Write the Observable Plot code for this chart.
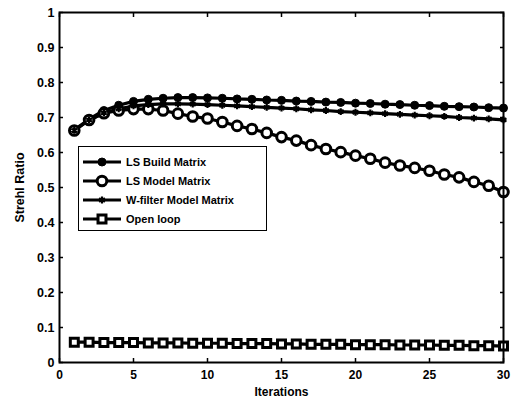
<!DOCTYPE html>
<html><head><meta charset="utf-8">
<script src="https://cdn.jsdelivr.net/npm/d3@7"></script>
<script src="https://cdn.jsdelivr.net/npm/@observablehq/plot@0.6"></script>
<style>
body{margin:0;background:#fff;font-family:"Liberation Sans",Arial,sans-serif;}
#wrap{position:relative;width:513px;height:403px;}
#legend{position:absolute;left:78px;top:146px;width:189px;height:85px;border:1.5px solid #000;background:#fff;box-sizing:border-box;padding-top:5px;}
.row{display:flex;align-items:center;height:19px;font-weight:bold;font-size:11px;}
.row svg{margin-left:3px;margin-right:4px;}
</style></head>
<body><div id="wrap"><div id="legend"></div></div>
<script>
const iterations = d3.range(1, 31);
const seriesNames = ["LS Build Matrix", "LS Model Matrix", "W-filter Model Matrix", "Open loop"];
const lsBuild = [0.665,0.695,0.72,0.735,0.746,0.752,0.755,0.757,0.757,0.756,0.755,0.753,0.752,0.75,0.749,0.747,0.746,0.744,0.743,0.741,0.74,0.738,0.737,0.735,0.734,0.732,0.731,0.73,0.728,0.727];
const lsModel = [0.663,0.693,0.712,0.72,0.724,0.724,0.72,0.711,0.703,0.697,0.687,0.676,0.667,0.656,0.644,0.634,0.621,0.61,0.601,0.591,0.582,0.571,0.563,0.556,0.548,0.537,0.529,0.516,0.505,0.487];
const wFilter = [0.663,0.693,0.713,0.725,0.733,0.737,0.739,0.739,0.738,0.737,0.735,0.733,0.731,0.729,0.727,0.725,0.722,0.72,0.717,0.715,0.713,0.711,0.709,0.707,0.705,0.703,0.70,0.698,0.696,0.693];
const openLoop = [0.058,0.058,0.057,0.057,0.057,0.056,0.056,0.056,0.055,0.055,0.055,0.054,0.054,0.054,0.053,0.053,0.052,0.052,0.052,0.051,0.051,0.051,0.050,0.050,0.050,0.049,0.049,0.048,0.048,0.047];
const xTicks = [0,5,10,15,20,25,30];
const yTicks = [0,0.1,0.2,0.3,0.4,0.5,0.6,0.7,0.8,0.9,1];

const allValues = [lsBuild, lsModel, wFilter, openLoop];
const data = [];
seriesNames.forEach((s, i) => iterations.forEach((x, j) => data.push({series: s, x, y: allValues[i][j]})));
const by = s => data.filter(d => d.series === s);

const styles = {
  "LS Build Matrix": {symbol: "circle", fill: "black", r: 4, strokeWidth: 1},
  "LS Model Matrix": {symbol: "circle", fill: "white", r: 4.8, strokeWidth: 3},
  "W-filter Model Matrix": {symbol: "asterisk", fill: "black", r: 3.2, strokeWidth: 2.2},
  "Open loop": {symbol: "square", fill: "white", r: 4.5, strokeWidth: 3}
};
const fmt = d => d === 0 ? "0" : d === 1 ? "1" : String(d);
const blank = () => "";

const marks = [];
seriesNames.forEach(s => {
  marks.push(Plot.line(by(s), {x: "x", y: "y", stroke: "black", strokeWidth: 3.2}));
});
seriesNames.forEach(s => {
  const st = styles[s];
  marks.push(Plot.dot(by(s), {x: "x", y: "y", symbol: st.symbol, r: st.r, fill: st.fill, stroke: "black", strokeWidth: st.strokeWidth}));
});

const chart = Plot.plot({
  width: 513, height: 403,
  marginLeft: 59, marginRight: 10, marginTop: 12, marginBottom: 41,
  style: {fontFamily: "'Liberation Sans', Arial, sans-serif", fontSize: "11.5px", fontWeight: "bold", color: "black", background: "white"},
  x: {domain: [0, 30]},
  y: {domain: [0, 1]},
  marks: [
    ...marks,
    Plot.axisX({ticks: xTicks, tickSize: -4, tickPadding: 12, tickFormat: fmt, strokeWidth: 1.5, label: "Iterations", labelAnchor: "center", labelArrow: "none", labelOffset: 33, fontSize: 12}),
    Plot.axisX({ticks: xTicks, anchor: "top", tickSize: -4, tickFormat: blank, label: null, strokeWidth: 1.5}),
    Plot.axisY({ticks: yTicks, tickSize: -4, tickPadding: 9, tickFormat: fmt, strokeWidth: 1.5, label: "Strehl Ratio", labelAnchor: "center", labelArrow: "none", labelOffset: 44, fontSize: 12.5}),
    Plot.axisY({ticks: yTicks, anchor: "right", tickSize: -4, tickFormat: blank, label: null, strokeWidth: 1.5}),
    Plot.frame({stroke: "black", strokeWidth: 2})
  ]
});
document.getElementById("wrap").prepend(chart);

const legend = d3.select("#legend");
seriesNames.forEach(s => {
  const st = styles[s];
  const row = legend.append("div").attr("class", "row");
  const svg = row.append("svg").attr("width", 40).attr("height", 14);
  svg.append("line").attr("x1", 1).attr("x2", 39).attr("y1", 7).attr("y2", 7).attr("stroke", "black").attr("stroke-width", 3);
  const sym = d3.symbol().type({circle: d3.symbolCircle, asterisk: d3.symbolAsterisk, square: d3.symbolSquare}[st.symbol]).size(Math.PI * st.r * st.r)();
  svg.append("path").attr("d", sym).attr("transform", "translate(20,7)").attr("fill", st.fill).attr("stroke", "black").attr("stroke-width", st.strokeWidth);
  row.append("span").text(s);
});
</script></body></html>
